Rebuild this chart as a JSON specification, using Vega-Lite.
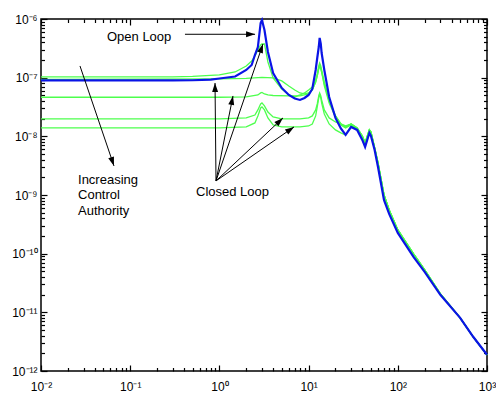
{
  "$schema": "https://vega.github.io/schema/vega-lite/v6.json",
  "width": 446,
  "height": 352,
  "autosize": "none",
  "padding": {"left": 41, "top": 19, "right": 9, "bottom": 23},
  "background": "white",
  "config": {
    "view": {"stroke": "black", "strokeWidth": 1.5},
    "axis": {"domain": false, "tickColor": "#000000", "tickWidth": 1.2, "tickOpacity": 1, "grid": false, "labelFont": "Liberation Sans", "labelFontSize": 12, "labelColor": "black", "labelFlush": false, "labelOverlap": false, "labelBound": false}
  },
  "datasets": {
    "curves": [
      {"series":"CL1","freq":0.01,"mag":1.028e-7},{"series":"CL1","freq":0.3,"mag":1.028e-7},{"series":"CL1","freq":0.5,"mag":1.048e-7},{"series":"CL1","freq":1,"mag":1.112e-7},{"series":"CL1","freq":1.5,"mag":1.251e-7},{"series":"CL1","freq":2,"mag":1.582e-7},{"series":"CL1","freq":2.3,"mag":1.925e-7},{"series":"CL1","freq":2.5,"mag":2.342e-7},{"series":"CL1","freq":2.7,"mag":2.96e-7},{"series":"CL1","freq":2.9,"mag":3.606e-7},{"series":"CL1","freq":3.0,"mag":3.75e-7},{"series":"CL1","freq":3.2,"mag":3.75e-7},{"series":"CL1","freq":3.5,"mag":1.851e-7},{"series":"CL1","freq":4,"mag":9.88e-8},{"series":"CL1","freq":5,"mag":6.42e-8},{"series":"CL1","freq":6,"mag":5.07e-8},{"series":"CL1","freq":7,"mag":4.69e-8},{"series":"CL1","freq":8,"mag":5.07e-8},{"series":"CL1","freq":9,"mag":5.49e-8},{"series":"CL1","freq":10,"mag":6.17e-8},{"series":"CL1","freq":11,"mag":6.94e-8},{"series":"CL1","freq":12,"mag":9.14e-8},{"series":"CL1","freq":12.5,"mag":1.156e-7},{"series":"CL1","freq":13,"mag":1.582e-7},{"series":"CL1","freq":13.3,"mag":1.78e-7},{"series":"CL1","freq":13.7,"mag":1.582e-7},{"series":"CL1","freq":14,"mag":1.353e-7},{"series":"CL1","freq":15,"mag":8.45e-8},{"series":"CL1","freq":17,"mag":4.17e-8},{"series":"CL1","freq":20,"mag":2.23e-8},{"series":"CL1","freq":23,"mag":1.626e-8},{"series":"CL1","freq":26,"mag":1.446e-8},{"series":"CL1","freq":30,"mag":1.626e-8},{"series":"CL1","freq":35,"mag":1.39e-8},{"series":"CL1","freq":40,"mag":1.016e-8},{"series":"CL1","freq":43,"mag":7.72e-9},{"series":"CL1","freq":48,"mag":1.285e-8},{"series":"CL1","freq":50,"mag":1.188e-8},{"series":"CL1","freq":55,"mag":6.34e-9},{"series":"CL1","freq":60,"mag":3.52e-9},{"series":"CL1","freq":70,"mag":1.004e-9},{"series":"CL1","freq":80,"mag":5.57e-10},{"series":"CL1","freq":100,"mag":2.54e-10},{"series":"CL1","freq":150,"mag":9.92e-11},{"series":"CL1","freq":200,"mag":5.3e-11},{"series":"CL1","freq":300,"mag":2.066e-11},{"series":"CL1","freq":500,"mag":8.06e-12},{"series":"CL1","freq":700,"mag":3.83e-12},{"series":"CL1","freq":1000,"mag":1.89e-12},

      {"series":"CL2","freq":0.01,"mag":9.32e-8},{"series":"CL2","freq":1,"mag":9.5e-8},{"series":"CL2","freq":2,"mag":9.69e-8},{"series":"CL2","freq":3,"mag":1.008e-7},{"series":"CL2","freq":4,"mag":9.88e-8},{"series":"CL2","freq":5,"mag":8.79e-8},{"series":"CL2","freq":6,"mag":7.22e-8},{"series":"CL2","freq":7,"mag":6.17e-8},{"series":"CL2","freq":8,"mag":5.49e-8},{"series":"CL2","freq":9,"mag":5.28e-8},{"series":"CL2","freq":10,"mag":5.49e-8},{"series":"CL2","freq":11,"mag":6.17e-8},{"series":"CL2","freq":12,"mag":8.45e-8},{"series":"CL2","freq":12.5,"mag":1.069e-7},{"series":"CL2","freq":13,"mag":1.463e-7},{"series":"CL2","freq":13.3,"mag":1.646e-7},{"series":"CL2","freq":13.7,"mag":1.463e-7},{"series":"CL2","freq":14,"mag":1.251e-7},{"series":"CL2","freq":15,"mag":7.81e-8},{"series":"CL2","freq":17,"mag":4.01e-8},{"series":"CL2","freq":20,"mag":2.23e-8},{"series":"CL2","freq":23,"mag":1.626e-8},{"series":"CL2","freq":26,"mag":1.446e-8},{"series":"CL2","freq":30,"mag":1.626e-8},{"series":"CL2","freq":35,"mag":1.39e-8},{"series":"CL2","freq":40,"mag":1.016e-8},{"series":"CL2","freq":43,"mag":7.72e-9},{"series":"CL2","freq":48,"mag":1.285e-8},{"series":"CL2","freq":50,"mag":1.188e-8},{"series":"CL2","freq":55,"mag":6.34e-9},{"series":"CL2","freq":60,"mag":3.52e-9},{"series":"CL2","freq":70,"mag":1.004e-9},{"series":"CL2","freq":80,"mag":5.57e-10},{"series":"CL2","freq":100,"mag":2.54e-10},{"series":"CL2","freq":150,"mag":9.92e-11},{"series":"CL2","freq":200,"mag":5.3e-11},{"series":"CL2","freq":300,"mag":2.066e-11},{"series":"CL2","freq":500,"mag":8.06e-12},{"series":"CL2","freq":700,"mag":3.83e-12},{"series":"CL2","freq":1000,"mag":1.89e-12},

      {"series":"CL3","freq":0.01,"mag":4.64e-8},{"series":"CL3","freq":1,"mag":4.64e-8},{"series":"CL3","freq":2,"mag":4.69e-8},{"series":"CL3","freq":2.7,"mag":5.07e-8},{"series":"CL3","freq":2.9,"mag":5.49e-8},{"series":"CL3","freq":3,"mag":5.6e-8},{"series":"CL3","freq":3.2,"mag":5.28e-8},{"series":"CL3","freq":3.5,"mag":5.07e-8},{"series":"CL3","freq":4,"mag":4.97e-8},{"series":"CL3","freq":6,"mag":4.88e-8},{"series":"CL3","freq":8,"mag":4.88e-8},{"series":"CL3","freq":10,"mag":5.28e-8},{"series":"CL3","freq":11,"mag":6.17e-8},{"series":"CL3","freq":12,"mag":8.45e-8},{"series":"CL3","freq":12.5,"mag":1.069e-7},{"series":"CL3","freq":13,"mag":1.407e-7},{"series":"CL3","freq":13.3,"mag":1.582e-7},{"series":"CL3","freq":13.7,"mag":1.407e-7},{"series":"CL3","freq":14,"mag":1.251e-7},{"series":"CL3","freq":15,"mag":7.22e-8},{"series":"CL3","freq":17,"mag":3.71e-8},{"series":"CL3","freq":20,"mag":2.14e-8},{"series":"CL3","freq":23,"mag":1.563e-8},{"series":"CL3","freq":26,"mag":1.39e-8},{"series":"CL3","freq":30,"mag":1.563e-8},{"series":"CL3","freq":35,"mag":1.337e-8},{"series":"CL3","freq":40,"mag":9.77e-9},{"series":"CL3","freq":43,"mag":7.4e-9},{"series":"CL3","freq":48,"mag":1.24e-8},{"series":"CL3","freq":50,"mag":1.15e-8},{"series":"CL3","freq":55,"mag":6.1e-9},{"series":"CL3","freq":60,"mag":3.4e-9},{"series":"CL3","freq":70,"mag":1.004e-9},{"series":"CL3","freq":80,"mag":5.57e-10},{"series":"CL3","freq":100,"mag":2.54e-10},{"series":"CL3","freq":150,"mag":9.92e-11},{"series":"CL3","freq":200,"mag":5.3e-11},{"series":"CL3","freq":300,"mag":2.066e-11},{"series":"CL3","freq":500,"mag":8.06e-12},{"series":"CL3","freq":700,"mag":3.83e-12},{"series":"CL3","freq":1000,"mag":1.89e-12},

      {"series":"CL4","freq":0.01,"mag":1.979e-8},{"series":"CL4","freq":1,"mag":1.979e-8},{"series":"CL4","freq":2,"mag":2.06e-8},{"series":"CL4","freq":2.5,"mag":2.31e-8},{"series":"CL4","freq":2.7,"mag":2.82e-8},{"series":"CL4","freq":2.9,"mag":3.56e-8},{"series":"CL4","freq":3.0,"mag":3.71e-8},{"series":"CL4","freq":3.2,"mag":3.3e-8},{"series":"CL4","freq":3.5,"mag":2.6e-8},{"series":"CL4","freq":4,"mag":2.14e-8},{"series":"CL4","freq":5,"mag":1.979e-8},{"series":"CL4","freq":8,"mag":1.979e-8},{"series":"CL4","freq":10,"mag":2.06e-8},{"series":"CL4","freq":11,"mag":2.23e-8},{"series":"CL4","freq":12,"mag":2.82e-8},{"series":"CL4","freq":12.5,"mag":3.56e-8},{"series":"CL4","freq":13,"mag":4.88e-8},{"series":"CL4","freq":13.3,"mag":5.49e-8},{"series":"CL4","freq":13.7,"mag":4.88e-8},{"series":"CL4","freq":14,"mag":4.17e-8},{"series":"CL4","freq":15,"mag":2.82e-8},{"series":"CL4","freq":17,"mag":2.06e-8},{"series":"CL4","freq":20,"mag":1.759e-8},{"series":"CL4","freq":23,"mag":1.626e-8},{"series":"CL4","freq":26,"mag":1.503e-8},{"series":"CL4","freq":30,"mag":1.626e-8},{"series":"CL4","freq":35,"mag":1.39e-8},{"series":"CL4","freq":40,"mag":1.016e-8},{"series":"CL4","freq":43,"mag":7.72e-9},{"series":"CL4","freq":48,"mag":1.285e-8},{"series":"CL4","freq":50,"mag":1.188e-8},{"series":"CL4","freq":55,"mag":6.34e-9},{"series":"CL4","freq":60,"mag":3.52e-9},{"series":"CL4","freq":70,"mag":1.004e-9},{"series":"CL4","freq":80,"mag":5.57e-10},{"series":"CL4","freq":100,"mag":2.54e-10},{"series":"CL4","freq":150,"mag":9.92e-11},{"series":"CL4","freq":200,"mag":5.3e-11},{"series":"CL4","freq":300,"mag":2.066e-11},{"series":"CL4","freq":500,"mag":8.06e-12},{"series":"CL4","freq":700,"mag":3.83e-12},{"series":"CL4","freq":1000,"mag":1.89e-12},

      {"series":"CL5","freq":0.01,"mag":1.39e-8},{"series":"CL5","freq":1,"mag":1.39e-8},{"series":"CL5","freq":2,"mag":1.446e-8},{"series":"CL5","freq":2.5,"mag":1.691e-8},{"series":"CL5","freq":2.7,"mag":2.23e-8},{"series":"CL5","freq":2.9,"mag":3.05e-8},{"series":"CL5","freq":3.0,"mag":3.17e-8},{"series":"CL5","freq":3.2,"mag":2.82e-8},{"series":"CL5","freq":3.5,"mag":2.06e-8},{"series":"CL5","freq":4,"mag":1.563e-8},{"series":"CL5","freq":5,"mag":1.446e-8},{"series":"CL5","freq":8,"mag":1.446e-8},{"series":"CL5","freq":10,"mag":1.503e-8},{"series":"CL5","freq":11,"mag":1.626e-8},{"series":"CL5","freq":12,"mag":2.23e-8},{"series":"CL5","freq":12.5,"mag":3.17e-8},{"series":"CL5","freq":13,"mag":4.51e-8},{"series":"CL5","freq":13.3,"mag":5.28e-8},{"series":"CL5","freq":13.7,"mag":4.51e-8},{"series":"CL5","freq":14,"mag":3.71e-8},{"series":"CL5","freq":15,"mag":2.41e-8},{"series":"CL5","freq":17,"mag":1.626e-8},{"series":"CL5","freq":20,"mag":1.285e-8},{"series":"CL5","freq":23,"mag":1.143e-8},{"series":"CL5","freq":26,"mag":1.056e-8},{"series":"CL5","freq":30,"mag":1.503e-8},{"series":"CL5","freq":35,"mag":1.337e-8},{"series":"CL5","freq":40,"mag":1.016e-8},{"series":"CL5","freq":43,"mag":7.72e-9},{"series":"CL5","freq":48,"mag":1.285e-8},{"series":"CL5","freq":50,"mag":1.188e-8},{"series":"CL5","freq":55,"mag":6.34e-9},{"series":"CL5","freq":60,"mag":3.52e-9},{"series":"CL5","freq":70,"mag":1.004e-9},{"series":"CL5","freq":80,"mag":5.57e-10},{"series":"CL5","freq":100,"mag":2.54e-10},{"series":"CL5","freq":150,"mag":9.92e-11},{"series":"CL5","freq":200,"mag":5.3e-11},{"series":"CL5","freq":300,"mag":2.066e-11},{"series":"CL5","freq":500,"mag":8.06e-12},{"series":"CL5","freq":700,"mag":3.83e-12},{"series":"CL5","freq":1000,"mag":1.89e-12},

      {"series":"OL","freq":0.01,"mag":8.96e-8},{"series":"OL","freq":0.1,"mag":8.96e-8},{"series":"OL","freq":0.3,"mag":8.96e-8},{"series":"OL","freq":0.5,"mag":9.03e-8},{"series":"OL","freq":0.8,"mag":9.24e-8},{"series":"OL","freq":1,"mag":9.69e-8},{"series":"OL","freq":1.5,"mag":1.048e-7},{"series":"OL","freq":2,"mag":1.353e-7},{"series":"OL","freq":2.3,"mag":1.646e-7},{"series":"OL","freq":2.5,"mag":2.435e-7},{"series":"OL","freq":2.7,"mag":3.33e-7},{"series":"OL","freq":2.9,"mag":8.55e-7},{"series":"OL","freq":3.0,"mag":9.61e-7},{"series":"OL","freq":3.2,"mag":6.5e-7},{"series":"OL","freq":3.5,"mag":2.74e-7},{"series":"OL","freq":4,"mag":1.202e-7},{"series":"OL","freq":5,"mag":6.68e-8},{"series":"OL","freq":6,"mag":5.07e-8},{"series":"OL","freq":7,"mag":4.42e-8},{"series":"OL","freq":8,"mag":4.17e-8},{"series":"OL","freq":9,"mag":4.51e-8},{"series":"OL","freq":10,"mag":5.07e-8},{"series":"OL","freq":11,"mag":6.42e-8},{"series":"OL","freq":12,"mag":1.353e-7},{"series":"OL","freq":12.5,"mag":2.165e-7},{"series":"OL","freq":13,"mag":3.33e-7},{"series":"OL","freq":13.3,"mag":4.75e-7},{"series":"OL","freq":13.7,"mag":3.75e-7},{"series":"OL","freq":14,"mag":2.63e-7},{"series":"OL","freq":15,"mag":1.353e-7},{"series":"OL","freq":17,"mag":4.69e-8},{"series":"OL","freq":20,"mag":2.06e-8},{"series":"OL","freq":23,"mag":1.363e-8},{"series":"OL","freq":26,"mag":1.056e-8},{"series":"OL","freq":30,"mag":1.446e-8},{"series":"OL","freq":35,"mag":1.285e-8},{"series":"OL","freq":40,"mag":8.68e-9},{"series":"OL","freq":43,"mag":6.6e-9},{"series":"OL","freq":48,"mag":1.143e-8},{"series":"OL","freq":50,"mag":1.016e-8},{"series":"OL","freq":55,"mag":5.86e-9},{"series":"OL","freq":60,"mag":3.01e-9},{"series":"OL","freq":70,"mag":8.25e-10},{"series":"OL","freq":80,"mag":4.76e-10},{"series":"OL","freq":100,"mag":2.26e-10},{"series":"OL","freq":150,"mag":8.82e-11},{"series":"OL","freq":200,"mag":4.9e-11},{"series":"OL","freq":300,"mag":1.99e-11},{"series":"OL","freq":500,"mag":8.06e-12},{"series":"OL","freq":700,"mag":3.83e-12},{"series":"OL","freq":1000,"mag":1.89e-12}
    ],
    "arrows": [
      {"x":0.411,"y":5.49e-7,"x2":2.51,"y2":5.49e-7},
      {"x":0.02736,"y":1.582e-7,"x2":0.0658,"y2":3.13e-9},
      {"x":0.916,"y":1.738e-9,"x2":0.893,"y2":8.12e-8},
      {"x":0.916,"y":1.738e-9,"x2":1.42,"y2":4.88e-8},
      {"x":0.916,"y":1.738e-9,"x2":3.08,"y2":3.75e-7},
      {"x":0.916,"y":1.738e-9,"x2":5.16,"y2":2.06e-8},
      {"x":0.916,"y":1.738e-9,"x2":6.86,"y2":1.446e-8}
    ],
    "notes": [
      {"label":"Open Loop","x":0.0549,"y":5.03e-7},
      {"label":"Increasing","x":0.026,"y":1.807e-9},
      {"label":"Control","x":0.026,"y":9.84e-10},
      {"label":"Authority","x":0.026,"y":5.36e-10},
      {"label":"Closed Loop","x":0.5466,"y":1.129e-9}
    ]
  },
  "layer": [
    {
      "data": {"name": "curves"},
      "transform": [{"filter": "datum.series != 'OL'"}],
      "mark": {"type": "line", "color": "#4dff4d", "strokeWidth": 1.3},
      "encoding": {
        "x": {"field": "freq", "type": "quantitative", "scale": {"type": "log", "domain": [0.01, 1000], "nice": false},
              "axis": {"orient": "bottom", "title": null, "values": [0.01, 0.1, 1, 10, 100, 1000], "ticks": false, "labelPadding": 10,
                       "labelExpr": "['10⁻²','10⁻¹','10⁰','10¹','10²','10³'][round(log(datum.value)/LN10)+2]"}},
        "y": {"field": "mag", "type": "quantitative", "scale": {"type": "log", "domain": [1e-12, 1e-6], "nice": false},
              "axis": {"orient": "left", "title": null, "values": [1e-12, 1e-11, 1e-10, 1e-9, 1e-8, 1e-7, 1e-6], "ticks": false, "labelPadding": 4,
                       "labelExpr": "['10⁻¹²','10⁻¹¹','10⁻¹⁰','10⁻⁹','10⁻⁸','10⁻⁷','10⁻⁶'][round(log(datum.value)/LN10)+12]"}},
        "detail": {"field": "series"}
      }
    },
    {
      "data": {"name": "curves"},
      "transform": [{"filter": "datum.series == 'OL'"}],
      "mark": {"type": "line", "color": "#0a14e6", "strokeWidth": 2.2},
      "encoding": {
        "x": {"field": "freq", "type": "quantitative", "scale": {"type": "log", "domain": [0.01, 1000], "nice": false},
              "axis": {"orient": "top", "offset": -352, "title": null, "labels": false, "tickSize": 6, "values": [0.01, 0.1, 1, 10, 100, 1000]}},
        "y": {"field": "mag", "type": "quantitative", "scale": {"type": "log", "domain": [1e-12, 1e-6], "nice": false},
              "axis": {"orient": "right", "offset": -446, "title": null, "labels": false, "tickSize": 6, "values": [1e-12, 1e-11, 1e-10, 1e-9, 1e-8, 1e-7, 1e-6]}}
      }
    },
    {
      "data": {"name": "arrows"},
      "mark": {"type": "rule", "color": "black", "strokeWidth": 1},
      "encoding": {
        "x": {"field": "x", "type": "quantitative", "scale": {"type": "log", "domain": [0.01, 1000], "nice": false},
              "axis": {"orient": "top", "offset": -352, "title": null, "labels": false, "tickSize": 3.5,
                       "values": [0.02,0.03,0.04,0.05,0.06,0.07,0.08,0.09,0.2,0.3,0.4,0.5,0.6,0.7,0.8,0.9,2,3,4,5,6,7,8,9,20,30,40,50,60,70,80,90,200,300,400,500,600,700,800,900]}},
        "y": {"field": "y", "type": "quantitative", "scale": {"type": "log", "domain": [1e-12, 1e-6], "nice": false},
              "axis": {"orient": "right", "offset": -446, "title": null, "labels": false, "tickSize": 3.5,
                       "values": [2e-12,3e-12,4e-12,5e-12,6e-12,7e-12,8e-12,9e-12,2e-11,3e-11,4e-11,5e-11,6e-11,7e-11,8e-11,9e-11,2e-10,3e-10,4e-10,5e-10,6e-10,7e-10,8e-10,9e-10,2e-9,3e-9,4e-9,5e-9,6e-9,7e-9,8e-9,9e-9,2e-8,3e-8,4e-8,5e-8,6e-8,7e-8,8e-8,9e-8,2e-7,3e-7,4e-7,5e-7,6e-7,7e-7,8e-7,9e-7]}},
        "x2": {"field": "x2"},
        "y2": {"field": "y2"}
      }
    },
    {
      "data": {"name": "arrows"},
      "mark": {"type": "point", "shape": "M0,0L-0.6,1.8L0.6,1.8Z", "filled": true, "color": "black", "opacity": 1, "size": 100,
               "angle": {"expr": "atan2(scale('x', datum.x2) - scale('x', datum.x), scale('y', datum.y) - scale('y', datum.y2)) * 180 / PI"}},
      "encoding": {
        "x": {"field": "x2", "type": "quantitative", "scale": {"type": "log", "domain": [0.01, 1000], "nice": false},
              "axis": {"orient": "bottom", "offset": -352, "title": null, "labels": false, "tickSize": 6, "values": [0.01, 0.1, 1, 10, 100, 1000]}},
        "y": {"field": "y2", "type": "quantitative", "scale": {"type": "log", "domain": [1e-12, 1e-6], "nice": false},
              "axis": {"orient": "left", "offset": -446, "title": null, "labels": false, "tickSize": 6, "values": [1e-12, 1e-11, 1e-10, 1e-9, 1e-8, 1e-7, 1e-6]}}
      }
    },
    {
      "data": {"name": "notes"},
      "mark": {"type": "text", "align": "left", "baseline": "middle", "font": "Liberation Sans", "fontSize": 13, "color": "black"},
      "encoding": {
        "x": {"field": "x", "type": "quantitative", "scale": {"type": "log", "domain": [0.01, 1000], "nice": false},
              "axis": {"orient": "bottom", "offset": -352, "title": null, "labels": false, "tickSize": 3.5,
                       "values": [0.02,0.03,0.04,0.05,0.06,0.07,0.08,0.09,0.2,0.3,0.4,0.5,0.6,0.7,0.8,0.9,2,3,4,5,6,7,8,9,20,30,40,50,60,70,80,90,200,300,400,500,600,700,800,900]}},
        "y": {"field": "y", "type": "quantitative", "scale": {"type": "log", "domain": [1e-12, 1e-6], "nice": false},
              "axis": {"orient": "left", "offset": -446, "title": null, "labels": false, "tickSize": 3.5,
                       "values": [2e-12,3e-12,4e-12,5e-12,6e-12,7e-12,8e-12,9e-12,2e-11,3e-11,4e-11,5e-11,6e-11,7e-11,8e-11,9e-11,2e-10,3e-10,4e-10,5e-10,6e-10,7e-10,8e-10,9e-10,2e-9,3e-9,4e-9,5e-9,6e-9,7e-9,8e-9,9e-9,2e-8,3e-8,4e-8,5e-8,6e-8,7e-8,8e-8,9e-8,2e-7,3e-7,4e-7,5e-7,6e-7,7e-7,8e-7,9e-7]}},
        "text": {"field": "label"}
      }
    }
  ],
  "resolve": {"axis": {"x": "independent", "y": "independent"}}
}
